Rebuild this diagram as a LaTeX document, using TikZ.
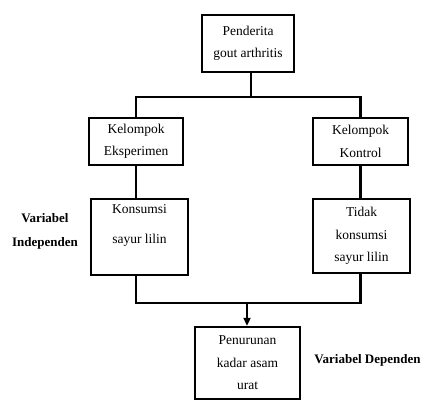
\documentclass[tikz,border=0pt]{standalone}
\usepackage{fontspec}
\setmainfont{Liberation Serif}
\usepackage{tikz}
\usetikzlibrary{positioning, arrows.meta, shapes}

\begin{document}
\begin{tikzpicture}[x=1pt,y=-1pt,
	box/.style={draw,line width=2.4pt,align=center,inner sep=0pt,
		font=\fontsize{13.5pt}{22.5pt}\selectfont},
	lbl/.style={align=center,font=\fontsize{13pt}{24pt}\selectfont\bfseries},
	link/.style={line width=2.4pt}]
\useasboundingbox (0,0) rectangle (427,401);
\node[box,minimum width=92pt,minimum height=57pt](p0) at (248,43.5) {Penderita\\gout arthritis};
\node[box,minimum width=94pt,minimum height=47pt](k1) at (136,141.5) {Kelompok\\Eksperimen};
\node[box,minimum width=95pt,minimum height=47pt](k2) at (360.5,141.5) {Kelompok\\Kontrol};
\node[box,minimum width=97pt,minimum height=76pt](v1) at (139.5,237) {Konsumsi\\[8pt]sayur lilin\\[3pt]\mbox{}};
\node[box,minimum width=97pt,minimum height=74pt](v2) at (361.5,236) {Tidak\\konsumsi\\sayur lilin};
\node[box,minimum width=105pt,minimum height=72pt](h0) at (247.5,363) {Penurunan\\kadar asam\\urat};
\node[lbl](li) at (45,231) {Variabel\\Independen};
\node[lbl](ld) at (367.5,360) {Variabel Dependen};
\coordinate (s1) at (251,97);
\coordinate (j1) at (247,303);

\draw[link] (p0.south -| s1) -- (s1)
	(k1.north) |- (s1) -| (k2.north)
	(k1.south) -- (k1.south |- v1.north)
	(k2.south) -- (k2.south |- v2.north)
	(v1.south -| k1.south) |- (j1) -| (v2.south -| k2.south);
\draw[link,-{Triangle[length=8pt,width=7pt]}] (j1) -- (h0.north -| j1);
\end{tikzpicture}
\end{document}
